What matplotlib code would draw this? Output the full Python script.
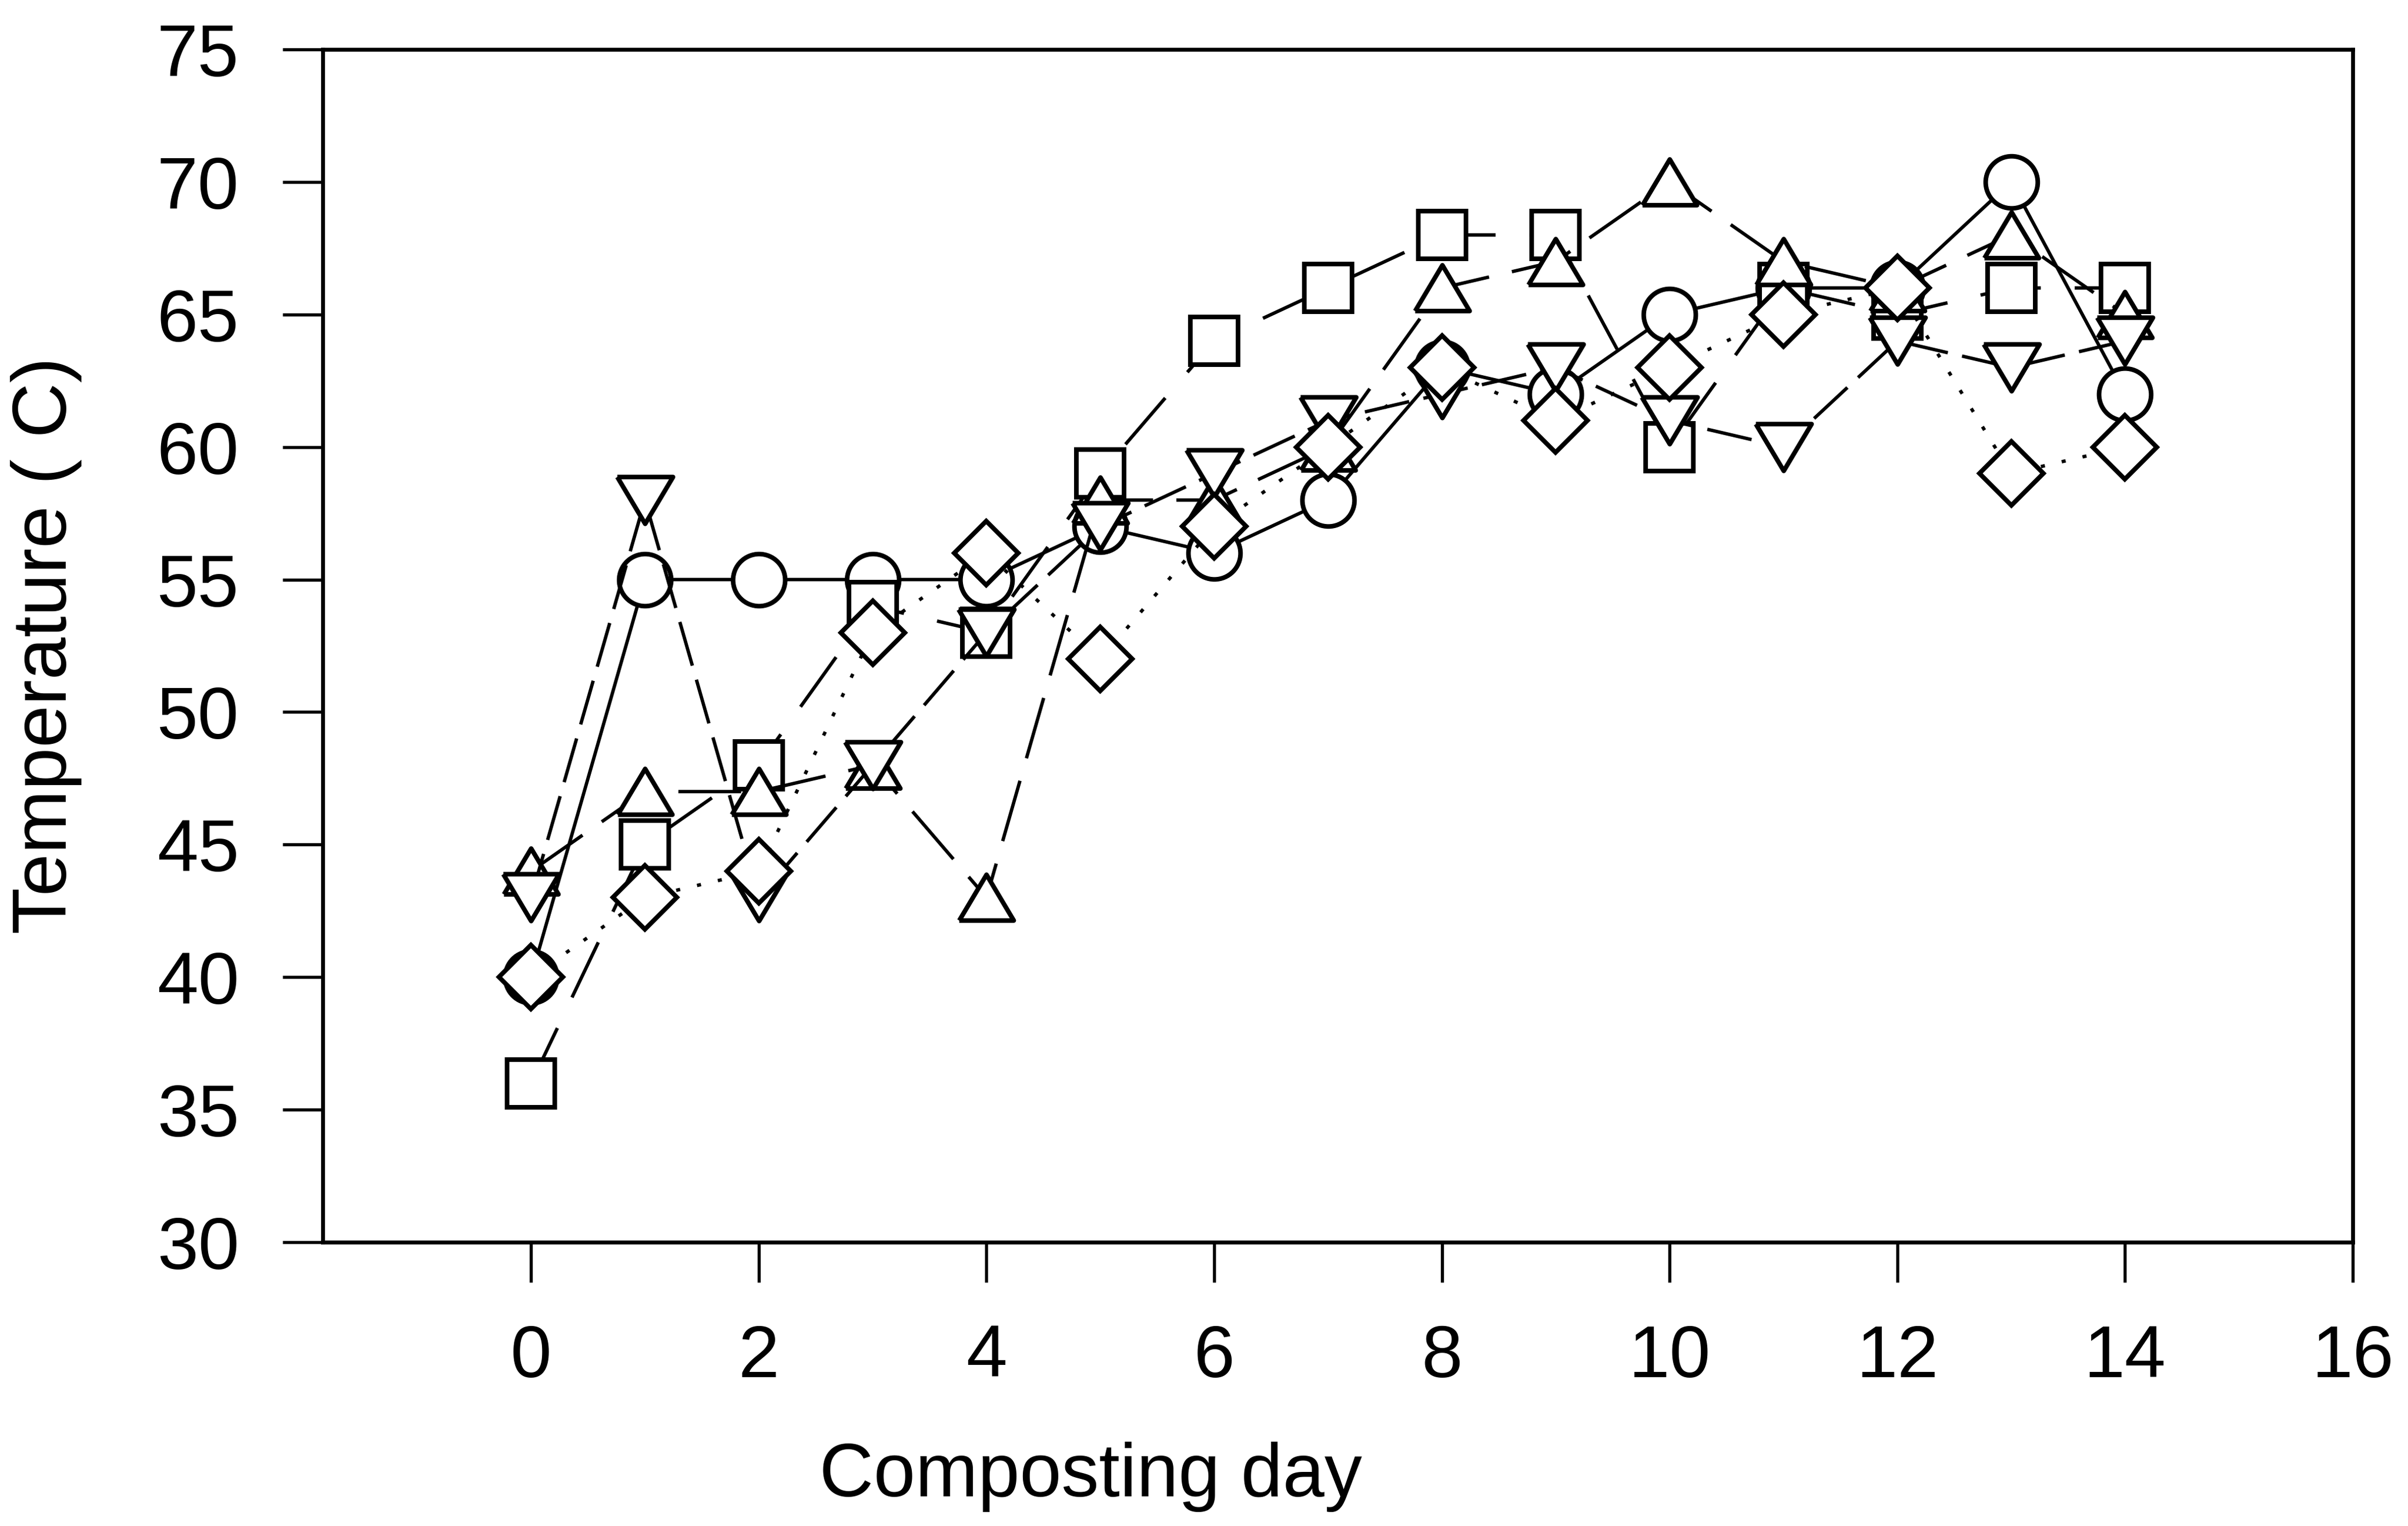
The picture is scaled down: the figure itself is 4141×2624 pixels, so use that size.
import matplotlib
matplotlib.use("Agg")
import matplotlib.pyplot as plt

# Composting temperature over 14 days for five piles
days = list(range(15))
temp_circle = [40, 55, 55, 55, 55, 57, 56, 58, 63, 62, 65, 66, 66, 70, 62]
temp_square = [36, 45, 48, 54, 53, 59, 64, 66, 68, 68, 60, 66, 65, 66, 66]
temp_tri_up = [44, 47, 47, 48, 43, 58, 58, 60, 66, 67, 70, 67, 66, 68, 65]
temp_tri_down = [43, 58, 43, 48, 53, 57, 59, 61, 62, 63, 61, 60, 64, 63, 64]
temp_diamond = [40, 43, 44, 53, 56, 52, 57, 60, 63, 61, 63, 65, 66, 59, 60]

x_ticks = [0, 2, 4, 6, 8, 10, 12, 14, 16]
y_ticks = [30, 35, 40, 45, 50, 55, 60, 65, 70, 75]
x_label = "Composting day"
y_label = "Temperature ( C)"

plt.rcParams['font.family'] = ['Liberation Sans', 'DejaVu Sans']

W, H, DPI = 4141, 2624, 300
fig = plt.figure(figsize=(W / DPI, H / DPI), dpi=DPI)
fig.patch.set_facecolor('white')

left, right, top, bottom = 555, 4046, 85, 2136
ax = fig.add_axes([left / W, (H - bottom) / H, (right - left) / W, (bottom - top) / H])

# open triangles, slightly wider than tall
tri_up = [(-1, -0.84), (1, -0.84), (0, 0.84), (-1, -0.84)]
tri_down = [(-1, 0.84), (1, 0.84), (0, -0.84), (-1, 0.84)]

line_w = 1.4
edge_w = 1.9
series = [
    (temp_circle, 'o', 21.5, '-', 2),
    (temp_square, 's', 19.5, (0, (18, 10)), 3),
    (temp_tri_up, tri_up, 22.5, (0, (18.5, 6.9)), 4),
    (temp_tri_down, tri_down, 23, (0, (13.4, 4.3)), 5),
    (temp_diamond, 'D', 18.5, (0, (1.2, 5.1)), 6),
]

for values, marker, size, style, z in series:
    ax.plot(days, values, color='black', linestyle=style, linewidth=line_w,
            marker=marker, markersize=size, markerfacecolor='white',
            markeredgecolor='black', markeredgewidth=edge_w, zorder=z)

ax.set_xlim(-1.83, 16)
ax.set_ylim(30, 75)
ax.set_xticks(x_ticks)
ax.set_yticks(y_ticks)
ax.set_xticklabels([str(t) for t in x_ticks])
ax.set_yticklabels([str(t) for t in y_ticks])

for s in ax.spines.values():
    s.set_linewidth(1.6)
    s.set_color('black')

ax.tick_params(axis='both', direction='out', length=16.5, width=1.3,
               labelsize=30.5, colors='black')
ax.tick_params(axis='x', pad=17)
ax.tick_params(axis='y', pad=18)

fig.text(1876 / W, (H - 2573) / H, x_label, ha='center', va='baseline', fontsize=31)
fig.text(80 / W, (H - 1110) / H, y_label, ha='center', va='center',
         rotation=90, fontsize=31.5)

fig.savefig('out.png', dpi=DPI, facecolor='white')
